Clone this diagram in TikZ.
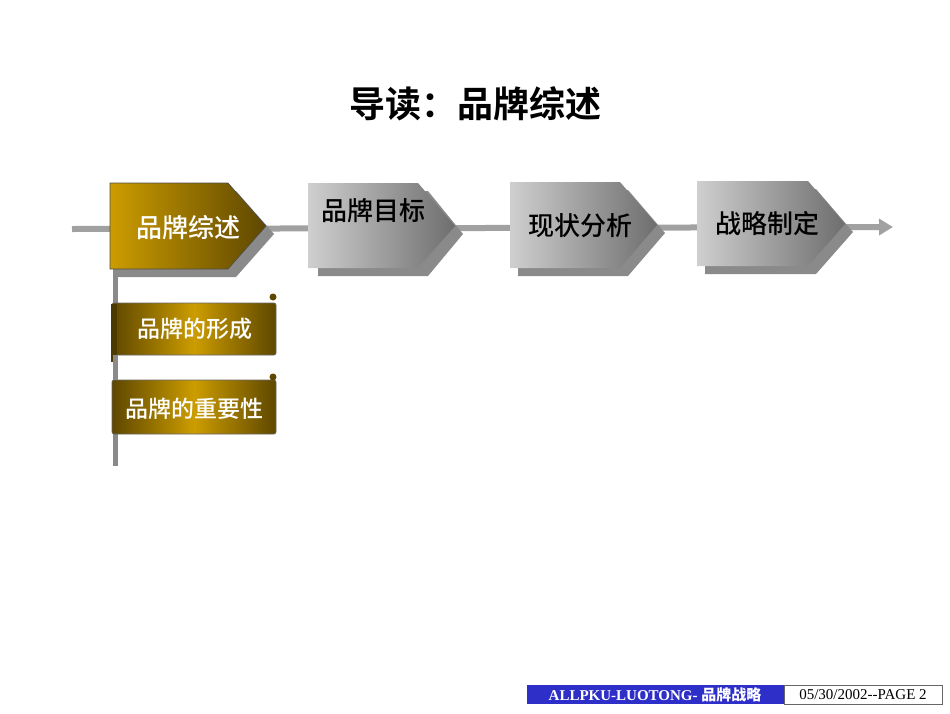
\documentclass[tikz,border=0pt]{standalone}
\usepackage{fontspec}
\setmainfont{Liberation Serif}
\newfontfamily\cjk{Noto Sans CJK SC Medium}
\newfontfamily\cjkb{Noto Sans CJK SC Bold}
\usetikzlibrary{arrows.meta}
\definecolor{gold}{HTML}{CC9C00}
\definecolor{dgold}{HTML}{5E4700}
\definecolor{lgray}{HTML}{CFCFCF}
\definecolor{dgray}{HTML}{6E6E6E}
\definecolor{sgray}{HTML}{8A8A8A}
\definecolor{fblue}{HTML}{2E2EC8}
\tikzset{
 shadowc/.style={fill=sgray,draw=none},
 goldbox/.style={left color=gold,right color=dgold,draw=black!70,line width=0.6pt},
 graybox/.style={left color=lgray,right color=dgray,draw=none},
 scroll/.style={left color=dgold,right color=dgold,middle color=gold,draw=black!60,line width=0.6pt,rounded corners=2pt},
 lbl/.style={font=\cjk\fontsize{26}{28}\selectfont},
 slbl/.style={font=\cjk\fontsize{23}{25}\selectfont,text=white},
}
\begin{document}
\begin{tikzpicture}[x=1pt,y=-1pt]
\useasboundingbox (0,0) rectangle (950,713);
\node (title) at (475,104) {\cjkb\fontsize{36}{40}\selectfont 导读：品牌综述};
\coordinate (ls) at (72,229);
\coordinate (le) at (893,227);
\draw[sgray!80,line width=6pt,-{Triangle[length=14pt,width=16pt]}] (ls) -- (le);
\draw[sgray,line width=5pt] (115,269) -- (115,466);
% shadows
\fill[shadowc] (118,191) -- (236,191) -- (274,234) -- (236,277) -- (118,277) -- cycle;
\fill[shadowc] (318,191) -- (428,191) -- (463,234) -- (428,276) -- (318,276) -- cycle;
\fill[shadowc] (518,190) -- (628,190) -- (665,233) -- (628,276) -- (518,276) -- cycle;
\fill[shadowc] (705,189) -- (816,189) -- (853,232) -- (816,274) -- (705,274) -- cycle;
% boxes
\shade[goldbox] (110,183) -- (228,183) -- (266,226) -- (228,269) -- (110,269) -- cycle;
\shade[graybox] (308,183) -- (418,183) -- (455,226) -- (418,268) -- (308,268) -- cycle;
\shade[graybox] (510,182) -- (620,182) -- (657,225) -- (620,268) -- (510,268) -- cycle;
\shade[graybox] (697,181) -- (808,181) -- (845,224) -- (808,266) -- (697,266) -- cycle;
\node[lbl,text=white] (b1) at (188,228) {品牌综述};
\node[lbl] (b2) at (373,211) {品牌目标};
\node[lbl] (b3) at (580,226) {现状分析};
\node[lbl] (b4) at (767,224) {战略制定};
% scrolls
\shade[scroll] (112,303) rectangle (276,355);
\fill[dgold] (273,297) circle (3.5pt);
\fill[dgold!80!black] (111,304) rectangle (117,362);
\node[slbl] (s1) at (195,329) {品牌的形成};
\shade[scroll] (112,380) rectangle (276,434);
\fill[dgold] (273,377) circle (3.5pt);
\node[slbl] (s2) at (194,409) {品牌的重要性};
\draw[sgray,line width=5pt] (115,355) -- (115,380);
% footer
\fill[fblue] (527,685) rectangle (784,704);
\draw[black!60,line width=0.6pt] (784,685) rectangle (942,704);
\node[text=white,font=\bfseries\fontsize{15}{16}\selectfont] (f1) at (655,694.5) {ALLPKU-LUOTONG- {\cjk 品牌战略}};
\node[font=\fontsize{15}{16}\selectfont] (f2) at (863,694.5) {05/30/2002-{}-PAGE 2};
\end{tikzpicture}
\end{document}
